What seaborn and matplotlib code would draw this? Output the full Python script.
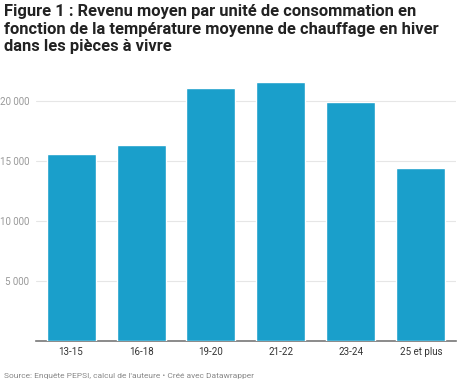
import matplotlib
matplotlib.use('Agg')
import matplotlib.pyplot as plt
import seaborn as sns
import pandas as pd

categories = ['13-15', '16-18', '19-20', '21-22', '23-24', '25 et plus']
revenu = [15600, 16330, 21100, 21550, 19950, 14420]
yticks = [5000, 10000, 15000, 20000]
ytick_labels = ['5 000', '10 000', '15 000', '20 000']

df = pd.DataFrame({'temp': categories, 'revenu': revenu})

sns.set_style('white')
plt.rcParams['font.family'] = ['Roboto', 'DejaVu Sans']

fig = plt.figure(figsize=(4.6, 3.85), dpi=100)
ax = fig.add_axes([36 / 460, 1 - 341 / 385, 420 / 460, 264 / 385])

sns.barplot(data=df, x='temp', y='revenu', color='#1a9fcb', width=0.7,
            saturation=1, ax=ax, zorder=3)

ax.set_xlim(-0.5, 5.5)
ax.set_ylim(0, 22000)
ax.set_yticks(yticks)
ax.set_yticklabels(ytick_labels)
ax.grid(axis='y', color='#e6e6e6', linewidth=0.8, zorder=0)
ax.set_xlabel('')
ax.set_ylabel('')
for s in ['top', 'right', 'left']:
    ax.spines[s].set_visible(False)
ax.spines['bottom'].set_color('#777777')
ax.spines['bottom'].set_linewidth(1.2)
ax.tick_params(axis='y', length=0, pad=5, labelsize=7, labelcolor='#999999')
ax.tick_params(axis='x', length=0, pad=4, labelsize=7, labelcolor='#333333')

fig.text(4 / 460, 1 - 4 / 385,
         'Figure 1 : Revenu moyen par unité de consommation en\n'
         'fonction de la température moyenne de chauffage en hiver\n'
         'dans les pièces à vivre',
         ha='left', va='top', fontsize=11.9, fontweight='bold', color='#222222',
         linespacing=1.22)
fig.text(4 / 460, 1 - 376 / 385,
         'Source: Enquête PEPSI, calcul de l\'auteure • Créé avec Datawrapper',
         ha='left', va='center', fontsize=6, color='#888888')

fig.savefig('out.png', dpi=100)
